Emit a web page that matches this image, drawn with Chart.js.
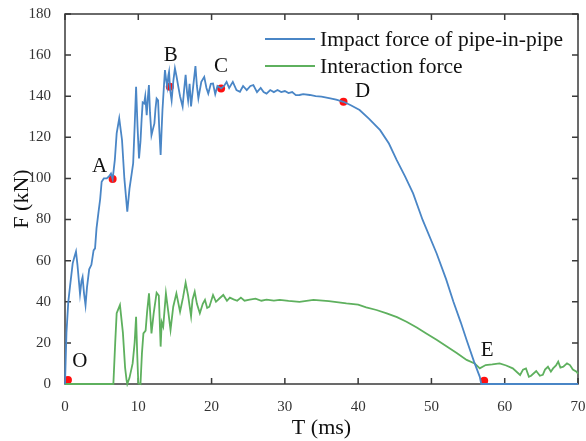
<!DOCTYPE html>
<html>
<head>
<meta charset="utf-8">
<script src="https://cdn.jsdelivr.net/npm/chart.js@4/dist/chart.umd.min.js"></script>
<style>
  html, body { margin: 0; padding: 0; background: #fff; overflow: hidden; }
  canvas { display: block; }
</style>
</head>
<body>
<canvas id="c" width="586" height="441"></canvas>
<script>
// ---- data ----
const impactT = [0,0.2,0.45,0.7,1.05,1.3,1.5,1.7,2.05,2.25,2.4,2.6,2.8,3.0,3.3,3.6,3.9,4.1,4.3,4.55,4.8,5.0,5.3,5.7,6.0,6.27,6.5,6.8,7.05,7.4,7.78,8.1,8.5,8.8,9.1,9.3,9.5,9.7,9.9,10.1,10.3,10.45,10.6,10.8,10.95,11.15,11.3,11.45,11.6,11.8,12.0,12.2,12.35,12.5,12.7,12.85,13.05,13.2,13.3,13.5,13.64,13.8,13.95,14.1,14.2,14.35,14.55,14.8,15.0,15.2,15.46,15.7,16.05,16.25,16.46,16.65,16.8,17.0,17.2,17.5,17.8,18.0,18.2,18.6,19.0,19.3,19.55,19.9,20.2,20.5,20.8,21.3,21.7,22.05,22.4,22.9,23.4,23.87,24.3,24.8,25.3,25.7,26.2,26.7,27.1,27.5,28.0,28.5,29.0,29.5,30,30.5,31,31.5,32,32.5,33.4,34.2,35,36.2,37,38,39,40.2,41.5,43,44.2,45.25,46.4,47.5,48.8,50.7,52,53,54,54.8,55.8,56.6,56.8,60,65,70];
const impactF = [0,25,40,48,58.7,62,64.4,58,43.8,50,52,44,38.4,47,55.8,58,65,66,75.7,83,90,98.4,100,100,101,102.4,99.7,109,121.9,129.2,118.7,100,83.8,95,102.4,107.3,125,144.6,125,109.7,118,128.4,137,136.5,140,130.8,139,145.4,132,121,124,126.8,134,138.9,138,125,111.4,125,133.3,145,152.7,148,144.6,150,151.9,143,138,148,153.6,150,144.7,140,135,143,150.4,142,138,146,135,145,154.7,145,139,147,149.4,144,141.3,146,146.2,141,145,143.8,145,147,144,147,143,142.2,145,143,145,145.4,142,144,142,141.3,143,142,143,142,142.5,141.5,142,140.5,140.6,141,140.6,140,139.8,139,138.3,137.3,135.6,133.3,129,123.5,117,109,101,92.7,79.8,63.6,51,40,30,21.4,11,3.5,0,0,0,0];

const interT = [0,6.6,6.85,7.05,7.5,7.9,8.2,8.4,8.5,8.8,9.23,9.5,9.7,9.85,10.0,10.3,10.5,10.7,11.0,11.2,11.46,11.8,12.1,12.5,12.8,13.05,13.2,13.4,13.77,14.1,14.4,14.77,15.2,15.7,16.1,16.46,16.8,17.2,17.4,17.7,18.0,18.4,18.8,19.1,19.4,19.7,20.2,20.6,21.1,21.6,22.1,22.5,23,23.5,24,24.5,25.2,26,26.8,27.5,28.5,29.3,30.5,32,33.9,36,38.4,40,41.1,42.5,43.9,45.3,46.6,48,49.3,50.7,52.1,53.5,54.8,55.9,56.6,57.4,58.3,59.3,60.2,61.1,62.1,62.5,62.9,63.3,63.6,64.3,64.8,65.2,65.5,65.9,66.3,66.6,67.0,67.3,67.6,68,68.5,68.9,69.3,69.8,70];
const interF = [0,0,20,34.4,38.4,25,8,1.9,0,3,10,20,32.7,15,0.3,0,15,24.6,26,35,44.1,24.6,34.4,44.4,43,18.2,30,27.9,44.1,35,26.3,37.6,44.1,35.2,42,49.3,43,33,41,44.9,39,34.4,39,40.9,37,37.6,43.3,40,41.7,43.3,40.5,42,41.2,40.5,42,40.5,41,41.5,40.5,41,40.6,40.9,40.4,40,40.9,40.3,39.2,38.6,37.3,36,34.4,32.5,30.3,27.5,24.6,21.5,18.2,15,11.7,10,7.6,9.2,9.5,10,9,7.6,4.4,7,7.6,3.5,4,6.3,4,4.5,7,8.4,6,7.6,9,10.9,8,8.4,10,9.2,7,6,5];

const keyNames = ['O', 'A', 'B', 'C', 'D', 'E'];
const keyT = [0.4, 6.5, 14.3, 21.3, 38.0, 57.2];
const keyF = [2, 99.7, 144.6, 143.8, 137.3, 1.6];

const seriesNames = ['Impact force of pipe-in-pipe', 'Interaction force'];
const xTicks = [0, 10, 20, 30, 40, 50, 60, 70];
const yTicks = [0, 20, 40, 60, 80, 100, 120, 140, 160, 180];

const BLUE = '#4a86c6';
const GREEN = '#5eb05e';
const SERIF = '"Liberation Serif", "Times New Roman", serif';

// offsets of the letters from their dots (px)
const labelOffsets = [[12, -18], [-13, -13], [1, -31], [0, -22], [19, -10], [3, -30]];

const toXY = (xs, ys) => xs.map((x, i) => ({ x: x, y: ys[i] }));

// frame + inward ticks, drawn under the curves
const frame = {
    id: 'frame',
    beforeDatasetsDraw(chart) {
        const { ctx, chartArea: a, scales: { x, y } } = chart;
        ctx.save();
        ctx.strokeStyle = '#3a3a3a';
        ctx.lineWidth = 1.5;
        ctx.strokeRect(a.left, a.top, a.right - a.left, a.bottom - a.top);
        const tl = 6;
        ctx.beginPath();
        xTicks.forEach(v => {
            const px = x.getPixelForValue(v);
            ctx.moveTo(px, a.bottom); ctx.lineTo(px, a.bottom - tl);
            ctx.moveTo(px, a.top); ctx.lineTo(px, a.top + tl);
        });
        yTicks.forEach(v => {
            const py = y.getPixelForValue(v);
            ctx.moveTo(a.left, py); ctx.lineTo(a.left + tl, py);
            ctx.moveTo(a.right, py); ctx.lineTo(a.right - tl, py);
        });
        ctx.stroke();
        ctx.restore();
    }
};

// point letters and legend
const notes = {
    id: 'notes',
    afterDatasetsDraw(chart) {
        const { ctx, scales: { x, y } } = chart;
        ctx.save();
        ctx.fillStyle = '#111';
        ctx.font = '21px ' + SERIF;
        ctx.textAlign = 'center';
        ctx.textBaseline = 'middle';
        keyNames.forEach((n, i) => {
            const px = x.getPixelForValue(keyT[i]) + labelOffsets[i][0];
            const py = y.getPixelForValue(keyF[i]) + labelOffsets[i][1];
            ctx.fillText(n, px, py);
        });

        const colors = [BLUE, GREEN];
        ctx.textAlign = 'left';
        ctx.font = '21.5px ' + SERIF;
        seriesNames.forEach((s, i) => {
            const ly = 39 + i * 27;
            ctx.strokeStyle = colors[i];
            ctx.lineWidth = 2;
            ctx.beginPath();
            ctx.moveTo(265, ly); ctx.lineTo(315, ly);
            ctx.stroke();
            ctx.fillText(s, 320, ly + 1);
        });
        ctx.restore();
    }
};

new Chart(document.getElementById('c'), {
    type: 'line',
    data: {
        datasets: [
            {
                label: seriesNames[0],
                data: toXY(impactT, impactF),
                borderColor: BLUE,
                borderWidth: 1.8,
                pointRadius: 0,
                tension: 0,
                clip: 3
            },
            {
                label: seriesNames[1],
                data: toXY(interT, interF),
                borderColor: GREEN,
                borderWidth: 1.8,
                pointRadius: 0,
                tension: 0,
                clip: 3
            },
            {
                label: 'key points',
                type: 'scatter',
                data: toXY(keyT, keyF),
                backgroundColor: '#ff1010',
                borderWidth: 0,
                pointRadius: 4,
                clip: 6
            }
        ]
    },
    options: {
        responsive: false,
        animation: false,
        layout: { autoPadding: false, padding: { left: 0, right: 8, top: 14, bottom: 0 } },
        scales: {
            x: {
                type: 'linear',
                min: 0, max: 70,
                afterBuildTicks: s => { s.ticks = xTicks.map(v => ({ value: v })); },
                afterFit: s => { s.height = 57; s.paddingLeft = 0; s.paddingRight = 0; },
                grid: { display: false },
                border: { display: false },
                ticks: { color: '#333', padding: 6, maxRotation: 0, font: { family: SERIF, size: 15 } },
                title: { display: true, text: 'T (ms)', color: '#111', padding: { top: 2, bottom: 0 }, font: { family: SERIF, size: 22 } }
            },
            y: {
                min: 0, max: 180,
                afterBuildTicks: s => { s.ticks = yTicks.map(v => ({ value: v })); },
                afterFit: s => { s.width = 65; s.paddingTop = 0; s.paddingBottom = 0; },
                grid: { display: false },
                border: { display: false },
                ticks: { color: '#333', padding: 6, font: { family: SERIF, size: 15 } },
                title: { display: true, text: 'F (kN)', color: '#111', padding: { top: 9, bottom: 0 }, font: { family: SERIF, size: 22 } }
            }
        },
        plugins: {
            legend: { display: false },
            tooltip: { enabled: false }
        }
    },
    plugins: [frame, notes]
});
</script>
</body>
</html>
